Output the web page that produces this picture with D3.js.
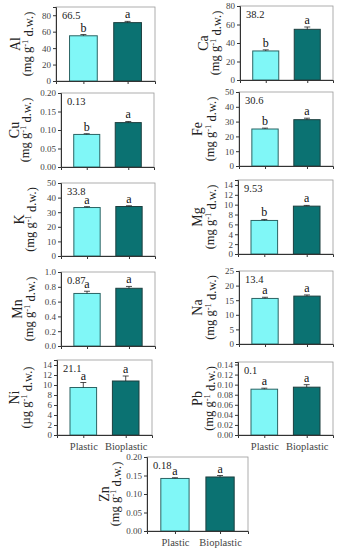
<!DOCTYPE html>
<html lang="en">
    <head>
        <meta charset="UTF-8" />
        <title>Element content: Plastic vs Bioplastic</title>
        <script src="https://d3js.org/d3.v7.min.js"></script>
        <style>
            body {
                margin: 0;
                background: #fff;
                font-family: "Liberation Serif", "Times New Roman", serif;
            }
            svg text {
                font-family: "Liberation Serif", "Times New Roman", serif;
            }
            .tick text {
                fill: #444;
                font-size: 9px;
            }
        </style>
    </head>
    <body>
        <svg width="340" height="550"></svg>

        <script>
            // data
            const elements = ["Al", "Ca", "Cu", "Fe", "K", "Mg", "Mn", "Na", "Ni", "Pb", "Zn"];
            const units = ["mg", "mg", "mg", "mg", "mg", "mg", "mg", "mg", "\u00b5g", "mg", "mg"];
            const yMax = [90, 80, 0.2, 50, 50, 15, 1.0, 25, 15, 0.145, 0.2];
            const tickStep = [20, 20, 0.05, 10, 10, 2, 0.2, 5, 2, 0.02, 0.05];
            const groups = ["Plastic", "Bioplastic"];
            const plastic = [55, 31.4, 0.088, 25, 33.2, 6.8, 0.71, 15.6, 9.5, 0.091, 0.142];
            const bioplastic = [71, 54.8, 0.12, 31.3, 33.9, 9.7, 0.78, 16.4, 10.8, 0.095, 0.146];
            const plasticErr = [1.5, 1.2, 0.002, 0.6, 0.6, 0.2, 0.03, 0.4, 1.0, 0.002, 0.002];
            const bioErr = [1.5, 2.5, 0.003, 1.0, 0.5, 0.15, 0.025, 0.4, 1.0, 0.005, 0.004];
            const plasticLetter = ["b", "b", "b", "b", "a", "b", "a", "a", "a", "a", "a"];
            const bioLetter = ["a", "a", "a", "a", "a", "a", "a", "a", "a", "a", "a"];
            const annotations = ["66.5", "38.2", "0.13", "30.6", "33.8", "9.53", "0.87", "13.4", "21.1", "0.1", "0.18"];
            const xLabelPanels = ["Ni", "Pb", "Zn"];

            // panel boxes [left, top, right, bottom] and y-title x positions
            const boxes = [
                [56, 7, 155, 81],
                [240, 6, 333, 80],
                [61, 93, 154, 167],
                [239, 92, 333, 166],
                [61, 183, 155, 256],
                [238, 180, 333, 254],
                [61, 272, 155, 346],
                [239, 271, 333, 344],
                [57, 360, 152, 435],
                [238, 362, 333, 435],
                [147, 457, 248, 531],
            ];
            const titleX = [
                [15, 27], [203, 215], [14, 25], [197, 210], [19, 30], [197, 210],
                [17, 29], [197, 210], [14, 26], [197, 209], [104, 115],
            ];

            const fills = ["#80f7f7", "#0b7272"];
            const strokes = ["#2b6464", "#1d3f3f"];

            const svg = d3.select("svg");

            elements.forEach((el, i) => {
                const [x0, y0, x1, y1] = boxes[i];
                const g = svg.append("g");

                const x = d3.scalePoint().domain(groups).range([x0, x1]).padding(0.62);
                const y = d3.scaleLinear().domain([0, yMax[i]]).range([y1, y0]);
                const bw = (x1 - x0) * 0.28;

                const step = tickStep[i];
                const dec = step < 0.1 ? 2 : step < 1 ? 1 : 0;
                const ticks = d3.range(0, yMax[i] + step * 1e-6, step).map((v) => +v.toFixed(6));

                // frame: top/right light
                g.append("rect")
                    .attr("x", x0)
                    .attr("y", y0)
                    .attr("width", x1 - x0)
                    .attr("height", y1 - y0)
                    .attr("fill", "none")
                    .attr("stroke", "#999")
                    .attr("stroke-width", 0.8);

                const vals = [plastic[i], bioplastic[i]];
                const errs = [plasticErr[i], bioErr[i]];
                const letters = [plasticLetter[i], bioLetter[i]];

                groups.forEach((grp, j) => {
                    const cx = x(grp);
                    g.append("rect")
                        .attr("x", cx - bw / 2)
                        .attr("y", y(vals[j]))
                        .attr("width", bw)
                        .attr("height", y(0) - y(vals[j]))
                        .attr("fill", fills[j])
                        .attr("stroke", strokes[j])
                        .attr("stroke-width", 1);

                    const top = y(vals[j] + errs[j]);
                    g.append("line")
                        .attr("x1", cx).attr("x2", cx)
                        .attr("y1", y(vals[j])).attr("y2", top)
                        .attr("stroke", "#222").attr("stroke-width", 0.8);
                    g.append("line")
                        .attr("x1", cx - 3).attr("x2", cx + 3)
                        .attr("y1", top).attr("y2", top)
                        .attr("stroke", "#222").attr("stroke-width", 0.8);

                    g.append("text")
                        .attr("x", cx)
                        .attr("y", top - 3)
                        .attr("text-anchor", "middle")
                        .attr("font-size", 12)
                        .attr("fill", "#111")
                        .text(letters[j]);
                });

                // axes
                g.append("g")
                    .attr("transform", `translate(${x0},0)`)
                    .call(
                        d3.axisLeft(y)
                            .tickValues(ticks)
                            .tickSize(3)
                            .tickPadding(2)
                            .tickFormat(d3.format(`.${dec}f`))
                    )
                    .attr("font-family", null)
                    .call((a) => a.select(".domain").attr("stroke", "#333"))
                    .call((a) => a.selectAll(".tick line").attr("stroke", "#333"));

                const xa = g.append("g")
                    .attr("transform", `translate(0,${y1})`)
                    .call(d3.axisBottom(x).tickSize(3).tickPadding(5))
                    .attr("font-family", null);
                xa.select(".domain").attr("stroke", "#333");
                xa.selectAll(".tick line").attr("stroke", "#333");
                xa.selectAll(".tick text")
                    .style("font-size", "10.5px")
                    .attr("fill", "#333")
                    .style("display", xLabelPanels.includes(el) ? null : "none");

                // value annotation
                g.append("text")
                    .attr("x", x0 + 6)
                    .attr("y", y0 + 12)
                    .attr("font-size", 10.5)
                    .attr("fill", "#222")
                    .text(annotations[i]);

                // y titles
                const cy = (y0 + y1) / 2;
                g.append("text")
                    .attr("transform", `translate(${titleX[i][0]},${cy}) rotate(-90)`)
                    .attr("text-anchor", "middle")
                    .attr("dy", "0.35em")
                    .attr("font-size", 14)
                    .attr("fill", "#222")
                    .text(el);

                const u = g.append("text")
                    .attr("transform", `translate(${titleX[i][1]},${cy}) rotate(-90)`)
                    .attr("text-anchor", "middle")
                    .attr("dy", "0.35em")
                    .attr("font-size", 12.5)
                    .attr("fill", "#222");
                u.append("tspan").text(`(${units[i]} g`);
                u.append("tspan").attr("dy", "-0.45em").attr("font-size", 8.5).text("-1");
                u.append("tspan").attr("dy", "0.45em").text(" d.w.)");
            });
        </script>
    </body>
</html>
